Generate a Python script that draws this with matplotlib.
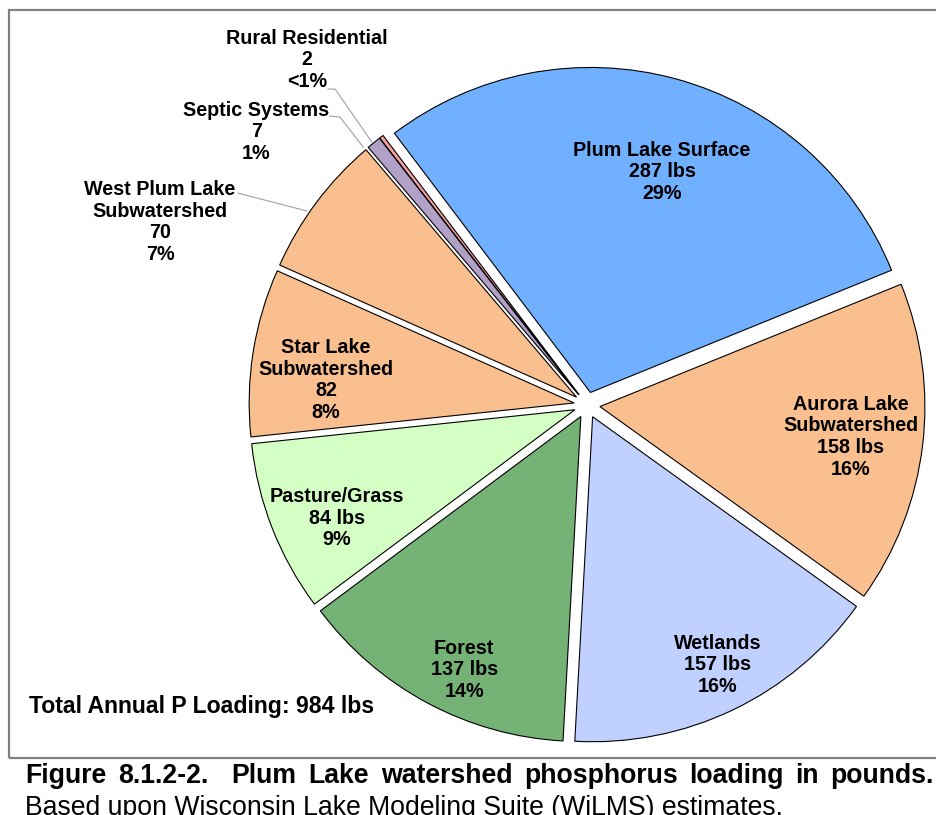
import numpy as np
import matplotlib.pyplot as plt
from matplotlib.patches import Rectangle
from matplotlib.lines import Line2D

plt.rcParams['font.family'] = ['Liberation Sans', 'DejaVu Sans']

# data (pounds of phosphorus per year)
categories = ['Plum Lake Surface', 'Aurora Lake\nSubwatershed', 'Wetlands', 'Forest',
              'Pasture/Grass', 'Star Lake\nSubwatershed', 'West Plum Lake\nSubwatershed',
              'Septic Systems', 'Rural Residential']
loads = [287, 158, 157, 137, 84, 82, 70, 7, 2]
units = [' lbs', ' lbs', ' lbs', ' lbs', ' lbs', '', '', '', '']
colors = ['#70B0FF', '#F9BF8F', '#C0D1FF', '#74B276', '#D4FFC4',
          '#F9BF8F', '#F9BF8F', '#B2A1C7', '#F4A0A0']

W, H = 936, 815
fig = plt.figure(figsize=(W / 100, H / 100), dpi=100)

# chart frame + separator above the caption
fig.add_artist(Rectangle((9 / W, (H - 758) / H), (W + 20 - 9) / W, (758 - 10) / H,
                         transform=fig.transFigure, fill=False, edgecolor='#808080',
                         linewidth=1.6, clip_on=False))

# pie: centre at (587, 405) px, radius 325 px
cx, cy, r = 587, 405, 325
L = 1.1
ax = fig.add_axes([(cx - L * r) / W, (H - cy - L * r) / H, 2 * L * r / W, 2 * L * r / H])
wedges, _ = ax.pie(loads, colors=colors, startangle=127.1, counterclock=False,
                   explode=[0.04] * len(loads),
                   wedgeprops=dict(edgecolor='black', linewidth=0.8))
ax.set_xlim(-L, L)
ax.set_ylim(-L, L)
ax.set_aspect('equal')
ax.axis('off')

total = sum(loads)
pcts = []
for v in loads:
    p = 100 * v / total
    pcts.append('<1%' if p < 0.5 else '%d%%' % int(p + 0.5))

# label placement (in pie radius units)
label_xy = [(0.231, 0.717), (0.812, -0.098), (0.403, -0.80), (-0.378, -0.815),
            (-0.769, -0.348), (-0.803, 0.077), (-1.314, 0.563), (-1.018, 0.84),
            (-0.862, 1.062)]
for name, v, u, p, (x, y) in zip(categories, loads, units, pcts, label_xy):
    ax.text(x, y, '%s\n%d%s\n%s' % (name, v, u, p), ha='center', va='center',
            fontsize=14.2, fontweight='bold', linespacing=1.18)

# leader lines for the outside labels
leaders = [[(-1.074, 0.652), (-0.862, 0.597)],
           [(-0.791, 0.889), (-0.760, 0.886), (-0.689, 0.794)],
           [(-0.797, 0.972), (-0.775, 0.972), (-0.662, 0.809)]]
for pts in leaders:
    xs, ys = zip(*pts)
    ax.add_line(Line2D(xs, ys, color='#A0A0A0', linewidth=0.8, clip_on=False))

fig.text(29 / W, (H - 713) / H, 'Total Annual P Loading: 984 lbs', fontsize=16.6,
         fontweight='bold', va='baseline')

# justified caption line
words = ['Figure', '8.1.2-2.', 'Plum', 'Lake', 'watershed', 'phosphorus', 'loading', 'in', 'pounds.']
gaps = [1, 2, 1, 1, 1, 1, 1, 1]
texts = [fig.text(0, (H - 783) / H, w, fontsize=19.2, fontweight='bold', va='baseline') for w in words]
fig.canvas.draw()
rend = fig.canvas.get_renderer()
widths = [t.get_window_extent(rend).width for t in texts]
x0, x1 = 25, 934
unit = (x1 - x0 - sum(widths)) / sum(gaps)
x = x0
for t, w, g in zip(texts, widths, gaps + [0]):
    t.set_x(x / W)
    x += w + g * unit

fig.text(25 / W, (H - 815) / H, 'Based upon Wisconsin Lake Modeling Suite (WiLMS) estimates.',
         fontsize=19.2, va='baseline')

fig.savefig('out.png', dpi=100)
